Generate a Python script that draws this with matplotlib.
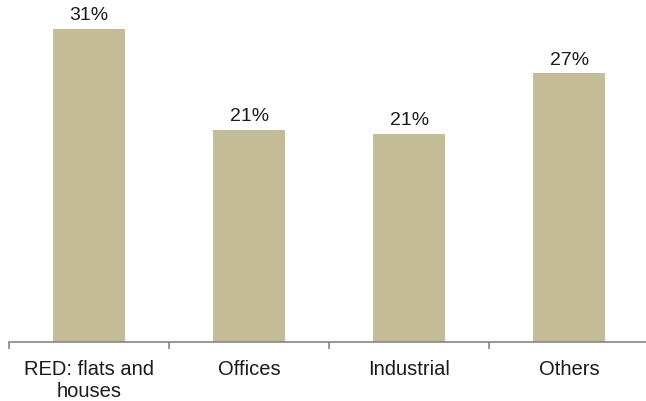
import matplotlib.pyplot as plt

categories = ["RED: flats and\nhouses", "Offices", "Industrial", "Others"]
shares = [31.0, 21.0, 20.6, 26.6]

plt.rcParams['font.family'] = ['Liberation Sans', 'DejaVu Sans']

fig = plt.figure(figsize=(6.46, 4.02), dpi=100)
ax = fig.add_axes([0.014, 0.147, 0.991, 0.853])

x = range(len(categories))
bars = ax.bar(x, shares, width=0.45, color='#C4BC96', edgecolor='none')

for b, v in zip(bars, shares):
    ax.annotate(f"{v:.0f}%", (b.get_x() + b.get_width() / 2, v),
                xytext=(0, 4), textcoords='offset points',
                ha='center', va='bottom', fontsize=14, color='#1a1a1a')

ax.set_xlim(-0.5, 3.5)
ax.set_ylim(0, 33.96)

# category boundaries get the tick marks, labels sit centred in between
ax.set_xticks([-0.5, 0.5, 1.5, 2.5, 3.5])
ax.set_xticklabels([])
ax.set_xticks(list(x), minor=True)
ax.set_xticklabels(categories, minor=True, fontsize=14.5, color='#1a1a1a',
                   linespacing=1.2)
ax.tick_params(axis='x', which='major', direction='out', length=5,
               width=1.2, color='#868686')
ax.tick_params(axis='x', which='minor', length=0, pad=12)
ax.set_yticks([])

for s in ['top', 'right', 'left']:
    ax.spines[s].set_visible(False)
ax.spines['bottom'].set_color('#868686')
ax.spines['bottom'].set_linewidth(1.2)

fig.savefig('out.png', dpi=100)
